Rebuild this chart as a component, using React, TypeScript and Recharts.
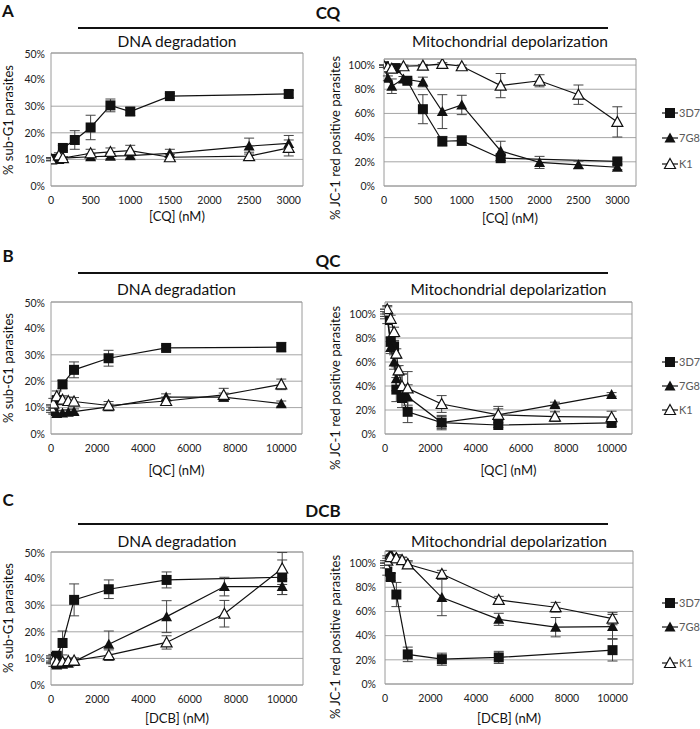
import React from 'react';
import { LineChart, Line, XAxis, YAxis, CartesianGrid, ErrorBar, ReferenceArea } from 'recharts';

const FONT = 'Lato, "Open Sans", sans-serif';
const strains = ['3D7', '7G8', 'K1'];

// ---- CQ ----
const cqDnaDose = [0, 100, 150, 300, 500, 750, 1000, 1500, 2500, 3000];
const cqDna3D7 = [10.2, null, 14.3, 17.3, 22, 30.3, 28, 33.8, null, 34.6];
const cqDna3D7Err = [0.5, null, 1, 3.5, 4.6, 2.4, 1.5, 1, null, 1.3];
const cqDna7G8 = [10, 10, 10.5, null, 11, 11.2, 11.4, 12.3, 15, 16];
const cqDna7G8Err = [0.5, 0.5, 0.5, null, 1, 1, 1, 1.5, 3, 3];
const cqDnaK1 = [10, 11.5, 10.5, null, 12.3, 12.8, 13.3, 10.8, 11.2, 14.3];
const cqDnaK1Err = [0.5, 1, 0.5, null, 1.5, 1.5, 2, 1, 1.5, 3];

const cqMitoDose = [0, 50, 100, 150, 250, 300, 500, 750, 1000, 1500, 2000, 2500, 3000];
const cqMito3D7 = [99, null, null, 97.5, null, 87, 63.5, 37, 37.5, 23, null, null, 20.3];
const cqMito3D7Err = [1, null, null, 1, null, 2, 12, 4, 4, 2, null, null, 2];
const cqMito7G8 = [99, 89, 82.5, null, 88.5, null, 86, 61.5, 67, 29, 19.5, 17.5, 15.5];
const cqMito7G8Err = [1, 2, 6, null, 2, null, 4, 14, 8, 8, 5, 3, 2];
const cqMitoK1 = [99, 98, 97, null, 99, null, 99.5, 101, 99, 83, 87, 75.5, 53];
const cqMitoK1Err = [1, 1, 1, null, 1, null, 1, 1, 1, 10, 5, 8, 12.5];

// ---- QC ----
const qcDnaDose = [0, 100, 250, 500, 750, 1000, 2500, 5000, 7500, 10000];
const qcDna3D7 = [10, 9, 12.8, 18.8, null, 24.3, 28.7, 32.6, null, 32.9];
const qcDna3D7Err = [1, 1, 1.5, 1.5, null, 3, 3, 1, null, 1.8];
const qcDna7G8 = [9.2, 8.5, 7.8, 8, 8.2, 8.5, 10.3, 14, 14, 11.5];
const qcDna7G8Err = [1, 1, 1, 1, 1, 1, 1, 1.2, 1.5, 1];
const qcDnaK1 = [10, 11.5, 14.3, 13, 12.5, 12.3, 10.8, 12.5, 14.8, 18.8];
const qcDnaK1Err = [1, 2, 2, 1.5, 1.5, 1.5, 1.5, 1.5, 2.5, 2];

const qcMitoDose = [0, 100, 250, 400, 500, 600, 750, 1000, 2500, 5000, 7500, 10000];
const qcMito3D7 = [99, 95, 77, 73, 37, null, 30, 18.5, 9.5, 7.5, null, 9.2];
const qcMito3D7Err = [3, 3, 4, 5, 10, null, 8, 9, 6, 2, null, 3];
const qcMito7G8 = [101, 103, 72, 60, 46, null, 40, 31, 9.5, 16, 24.5, 33];
const qcMito7G8Err = [3, 3, 5, 6, 10, null, 10, 10, 5, 5, 2, 1.5];
const qcMitoK1 = [102, 104, 96, 85, 67, 53, 40, 38, 25, 16, 14.5, 14];
const qcMitoK1Err = [2, 3, 3, 4, 4, 4, 10, 14, 7, 7, 4, 5];

// ---- DCB ----
const dcbDnaDose = [0, 100, 250, 500, 750, 1000, 2500, 5000, 7500, 10000];
const dcbDna3D7 = [10, 10.5, 11, 15.8, null, 32, 36, 39.5, null, 40.5];
const dcbDna3D7Err = [1, 1, 1, 4.5, null, 6, 3.5, 3, null, 6.5];
const dcbDna7G8 = [9, 8, 7.5, 7.8, 8.2, 8.8, 15.3, 25.7, 37, 37];
const dcbDna7G8Err = [1, 1, 1, 1, 1, 1, 5, 6, 3.5, 3];
const dcbDnaK1 = [9.5, 9, 8.7, 8.8, 9, 9.2, 11.2, 16, 26.8, 43.8];
const dcbDnaK1Err = [1, 1, 1, 1, 1, 1, 2, 2.5, 5, 6];

const dcbMitoDose = [0, 100, 250, 500, 750, 1000, 2500, 5000, 7500, 10000];
const dcbMito3D7 = [98, 93, 88.5, 74, null, 24.5, 20.5, 22, null, 28];
const dcbMito3D7Err = [2, 3, 3, 10, null, 6, 5, 5, null, 9];
const dcbMito7G8 = [100, 104, 108, 105, 103, 100, 71.5, 53.5, 47, 47.5];
const dcbMito7G8Err = [2, 2, 2, 2, 2, 2, 15, 5, 8, 10];
const dcbMitoK1 = [99, 102, 105, 104, 102.5, 99, 91, 69.5, 63.5, 54];
const dcbMitoK1Err = [1, 2, 2, 2, 2, 2, 3, 3, 4, 5];

const cqTicks = [0, 500, 1000, 1500, 2000, 2500, 3000];
const bigTicks = [0, 2000, 4000, 6000, 8000, 10000];
const dnaTicks = [0, 10, 20, 30, 40, 50];
const mitoTicks = [0, 20, 40, 60, 80, 100];

const toPoints = (dose: number[], vals: (number | null)[], errs: (number | null)[]) =>
  dose
    .map((d, i) => ({ dose: d, value: vals[i], err: errs[i] }))
    .filter(p => p.value !== null);

const Marker = ({ cx, cy, shape }: { cx: number; cy: number; shape: number }) => {
  if (cx == null || cy == null) return null;
  if (shape === 0) {
    return <rect x={cx - 5} y={cy - 5} width={10} height={10} fill="#111" />;
  }
  const pts = `${cx},${cy - 5.5} ${cx + 5.5},${cy + 4.5} ${cx - 5.5},${cy + 4.5}`;
  return shape === 1
    ? <polygon points={pts} fill="#111" />
    : <polygon points={pts} fill="#fff" stroke="#111" strokeWidth={1.2} />;
};

interface PlotProps {
  box: { l: number; t: number; r: number; b: number };
  xMax: number;
  xTicks: number[];
  yMax: number;
  yTicks: number[];
  dose: number[];
  vals: (number | null)[][];
  errs: (number | null)[][];
  gap: number;
}

const Plot: React.FC<PlotProps> = ({ box, xMax, xTicks, yMax, yTicks, dose, vals, errs, gap }) => {
  const mt = 4, yw = 46, xh = 30;
  const w = box.r - box.l, h = box.b - box.t;
  return (
    <div style={{ position: 'absolute', left: box.l - yw, top: box.t - mt }}>
      <LineChart width={w + yw + 4} height={h + mt + xh} margin={{ top: mt, right: 4, bottom: 0, left: 0 }}>
        <CartesianGrid vertical={false} stroke="#a6a6a6" />
        <ReferenceArea x1={0} x2={xMax} y1={0} y2={yMax} fill="none" stroke="#9a9a9a" strokeWidth={1} />
        <XAxis
          type="number"
          dataKey="dose"
          domain={[0, xMax]}
          ticks={xTicks}
          allowDataOverflow
          axisLine={false}
          tickLine={false}
          tickSize={0}
          tickMargin={11}
          height={xh}
          tick={{ fontSize: 10.5, fill: '#222', fontFamily: FONT }}
        />
        <YAxis
          type="number"
          domain={[0, yMax]}
          ticks={yTicks}
          allowDataOverflow
          width={yw}
          axisLine={false}
          tickLine={false}
          tickSize={0}
          tickMargin={gap}
          tickFormatter={(v: number) => `${v}%`}
          tick={{ fontSize: 10.5, fill: '#222', fontFamily: FONT }}
        />
        {vals.map((v, s) => (
          <Line
            key={strains[s]}
            data={toPoints(dose, v, errs[s])}
            dataKey="value"
            name={strains[s]}
            stroke="#111"
            strokeWidth={1.2}
            isAnimationActive={false}
            dot={(p: any) => <Marker key={`${s}-${p.index}`} cx={p.cx} cy={p.cy} shape={s} />}
            activeDot={false}
          >
            <ErrorBar dataKey="err" direction="y" width={5} stroke="#444" strokeWidth={1} />
          </Line>
        ))}
      </LineChart>
    </div>
  );
};

const Legend: React.FC<{ ys: number[] }> = ({ ys }) => (
  <svg style={{ position: 'absolute', left: 660, top: ys[0] - 10 }} width={40} height={ys[2] - ys[0] + 20}>
    {strains.map((s, i) => {
      const y = ys[i] - ys[0] + 10;
      return (
        <g key={s}>
          <line x1={2} x2={18} y1={y} y2={y} stroke="#111" strokeWidth={1.2} />
          <Marker cx={10} cy={y} shape={i} />
          <text x={19} y={y + 4} fontSize={11} fill="#595959" fontFamily={FONT}>{s}</text>
        </g>
      );
    })}
  </svg>
);

const Txt: React.FC<{ x: number; y: number; size: number; bold?: boolean; rot?: boolean; color?: string; children: React.ReactNode }> =
  ({ x, y, size, bold, rot, color = '#111', children }) => (
    <div style={{
      position: 'absolute', left: x, top: y, fontSize: size, fontWeight: bold ? 700 : 400,
      color, whiteSpace: 'nowrap', lineHeight: 1, fontFamily: FONT,
      transform: `translate(-50%, -50%)${rot ? ' rotate(-90deg)' : ''}`,
    }}>{children}</div>
  );

interface PanelCfg {
  letter: string; letterY: number; drug: string; drugX: number; drugY: number; lineY: number; subY: number;
  left: PlotProps; right: PlotProps; xLabel: string; xlY: [number, number]; ylY: [number, number]; legend: number[];
}

const panels: PanelCfg[] = [
  {
    letter: 'A', letterY: 10, drug: 'CQ', drugX: 328, drugY: 12, lineY: 28, subY: 42,
    left: { box: { l: 51, t: 53, r: 303, b: 186 }, xMax: 3180, xTicks: cqTicks, yMax: 50, yTicks: dnaTicks, dose: cqDnaDose,
      vals: [cqDna3D7, cqDna7G8, cqDnaK1], errs: [cqDna3D7Err, cqDna7G8Err, cqDnaK1Err], gap: 6 },
    right: { box: { l: 384, t: 59, r: 636, b: 186 }, xMax: 3240, xTicks: cqTicks, yMax: 105, yTicks: mitoTicks, dose: cqMitoDose,
      vals: [cqMito3D7, cqMito7G8, cqMitoK1], errs: [cqMito3D7Err, cqMito7G8Err, cqMitoK1Err], gap: 9 },
    xLabel: '[CQ] (nM)', xlY: [216, 218], ylY: [120, 138], legend: [113, 138, 164],
  },
  {
    letter: 'B', letterY: 255, drug: 'QC', drugX: 328, drugY: 260, lineY: 273, subY: 290,
    left: { box: { l: 51, t: 302, r: 302, b: 434 }, xMax: 10900, xTicks: bigTicks, yMax: 50, yTicks: dnaTicks, dose: qcDnaDose,
      vals: [qcDna3D7, qcDna7G8, qcDnaK1], errs: [qcDna3D7Err, qcDna7G8Err, qcDnaK1Err], gap: 6 },
    right: { box: { l: 385, t: 302, r: 632, b: 434 }, xMax: 10900, xTicks: bigTicks, yMax: 110, yTicks: mitoTicks, dose: qcMitoDose,
      vals: [qcMito3D7, qcMito7G8, qcMitoK1], errs: [qcMito3D7Err, qcMito7G8Err, qcMitoK1Err], gap: 9 },
    xLabel: '[QC] (nM)', xlY: [470, 470], ylY: [368, 388], legend: [362, 386, 410],
  },
  {
    letter: 'C', letterY: 499, drug: 'DCB', drugX: 323, drugY: 510, lineY: 524, subY: 542,
    left: { box: { l: 51, t: 552, r: 303, b: 685 }, xMax: 10900, xTicks: bigTicks, yMax: 50, yTicks: dnaTicks, dose: dcbDnaDose,
      vals: [dcbDna3D7, dcbDna7G8, dcbDnaK1], errs: [dcbDna3D7Err, dcbDna7G8Err, dcbDnaK1Err], gap: 6 },
    right: { box: { l: 385, t: 551, r: 633, b: 684 }, xMax: 10900, xTicks: bigTicks, yMax: 110, yTicks: mitoTicks, dose: dcbMitoDose,
      vals: [dcbMito3D7, dcbMito7G8, dcbMitoK1], errs: [dcbMito3D7Err, dcbMito7G8Err, dcbMitoK1Err], gap: 9 },
    xLabel: '[DCB] (nM)', xlY: [718, 718], ylY: [618, 637], legend: [603, 627, 663],
  },
];

export default function App() {
  return (
    <div style={{ position: 'absolute', left: 0, top: 0, width: 700, height: 729, background: '#fff', fontFamily: FONT, overflow: 'hidden' }}>
      {panels.map(p => (
        <React.Fragment key={p.letter}>
          <Txt x={8} y={p.letterY} size={17} bold>{p.letter}</Txt>
          <Txt x={p.drugX} y={p.drugY} size={17} bold>{p.drug}</Txt>
          <div style={{ position: 'absolute', left: 78, top: p.lineY - 1, width: 530, height: 2, background: '#111' }} />
          <Txt x={(p.left.box.l + p.left.box.r) / 2} y={p.subY} size={15.5}>DNA degradation</Txt>
          <Txt x={(p.right.box.l + p.right.box.r) / 2} y={p.subY} size={15.5}>Mitochondrial depolarization</Txt>
          <Plot {...p.left} />
          <Plot {...p.right} />
          <Txt x={(p.left.box.l + p.left.box.r) / 2} y={p.xlY[0]} size={13}>{p.xLabel}</Txt>
          <Txt x={(p.right.box.l + p.right.box.r) / 2} y={p.xlY[1]} size={13}>{p.xLabel}</Txt>
          <Txt x={8} y={p.ylY[0]} size={13} rot>% sub-G1 parasites</Txt>
          <Txt x={335} y={p.ylY[1]} size={13} rot>% JC-1 red positive parasites</Txt>
          <Legend ys={p.legend} />
        </React.Fragment>
      ))}
    </div>
  );
}
